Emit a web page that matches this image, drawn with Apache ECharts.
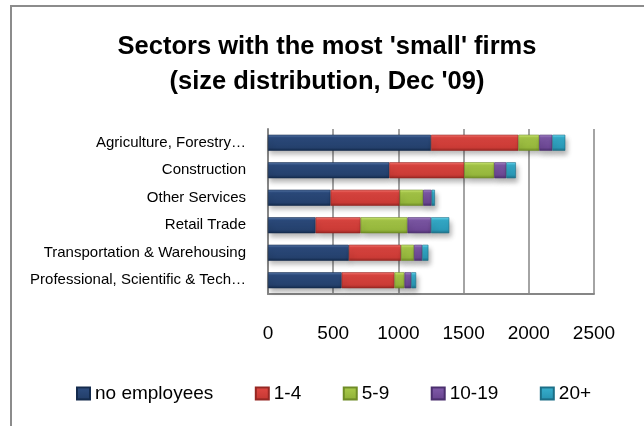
<!DOCTYPE html>
<html>
<head>
<meta charset="utf-8">
<script src="https://cdn.jsdelivr.net/npm/echarts@6/dist/echarts.min.js"></script>
<style>
  html, body { margin: 0; padding: 0; background: #ffffff; }
  #chart { width: 644px; height: 426px; }
</style>
</head>
<body>
<div id="chart"></div>
<script>
// Sectors, listed top to bottom
const sectors = [
  'Agriculture, Forestry\u2026',
  'Construction',
  'Other Services',
  'Retail Trade',
  'Transportation & Warehousing',
  'Professional, Scientific & Tech\u2026'
];

// Number of firms per size band (thousands)
const noEmployees = [1250, 930, 480, 365, 620, 565];
const band1to4    = [670, 575, 530, 345, 400, 405];
const band5to9    = [160, 230, 180, 360, 100, 77];
const band10to19  = [100, 92, 65, 180, 62, 51];
const band20plus  = [100, 74, 25, 140, 48, 38];

const bandNames = ['no employees', '1-4', '5-9', '10-19', '20+'];
const bandValues = [noEmployees, band1to4, band5to9, band10to19, band20plus];

// Axis ticks
const xTicks = { min: 0, max: 2500, step: 500 };

// Bevelled fills: light top edge, main body, dark bottom edge
const palettes = [
  ['#5a7bab', '#2c4b7d', '#24406c', '#142b4d'],
  ['#f47a74', '#dc4540', '#c93a35', '#962723'],
  ['#d2ec7a', '#a6c748', '#94b53b', '#6f8c26'],
  ['#a98bcc', '#7d58a6', '#6c4793', '#4b2f6e'],
  ['#6fdcf4', '#35acca', '#2a98b6', '#1c6f87']
];

function bevel(p) {
  return new echarts.graphic.LinearGradient(0, 0, 0, 1, [
    { offset: 0, color: p[0] },
    { offset: 0.18, color: p[1] },
    { offset: 0.8, color: p[2] },
    { offset: 1, color: p[3] }
  ]);
}

const series = bandNames.map((name, i) => ({
  name: name,
  type: 'bar',
  stack: 'total',
  barWidth: 16,
  data: bandValues[i],
  itemStyle: {
    color: bevel(palettes[i]),
    borderColor: palettes[i][3],
    borderWidth: 0.6,
    shadowBlur: 5,
    shadowOffsetX: 2,
    shadowOffsetY: 4,
    shadowColor: 'rgba(0,0,0,0.3)'
  },
  emphasis: { disabled: true }
}));

const chart = echarts.init(document.getElementById('chart'), null, { renderer: 'canvas' });

chart.setOption({
  animation: false,
  backgroundColor: '#ffffff',
  textStyle: { fontFamily: 'Liberation Sans' },
  graphic: [{
    type: 'rect',
    shape: { x: 11, y: 6, width: 700, height: 500 },
    style: { fill: 'none', stroke: '#8c8c8c', lineWidth: 2 },
    z: 0
  }],
  title: {
    text: "Sectors with the most 'small' firms\n(size distribution, Dec '09)",
    left: 327,
    textAlign: 'center',
    top: 29,
    padding: 0,
    textStyle: {
      fontFamily: 'Liberation Sans',
      fontWeight: 'bold',
      fontSize: 25.5,
      lineHeight: 35,
      color: '#000000'
    }
  },
  legend: {
    data: bandNames,
    left: 76,
    top: 384,
    padding: 0,
    itemWidth: 13,
    itemHeight: 12,
    itemGap: 41.5,
    icon: 'rect',
    textStyle: { fontFamily: 'Liberation Sans', fontSize: 19, color: '#000000' }
  },
  grid: { left: 268, right: 50, top: 129, bottom: 132, containLabel: false },
  xAxis: {
    type: 'value',
    min: xTicks.min,
    max: xTicks.max,
    interval: xTicks.step,
    axisLine: { show: true, lineStyle: { color: '#868686', width: 2 } },
    axisTick: { show: false },
    splitLine: { show: true, lineStyle: { color: '#868686', width: 1.5 } },
    axisLabel: {
      margin: 30,
      fontFamily: 'Liberation Sans',
      fontSize: 19,
      color: '#000000',
      formatter: (v) => String(v)
    }
  },
  yAxis: {
    type: 'category',
    inverse: true,
    data: sectors,
    axisLine: { show: true, lineStyle: { color: '#868686', width: 2 } },
    axisTick: { show: false },
    axisLabel: { margin: 22, fontFamily: 'Liberation Sans', fontSize: 15, color: '#000000' }
  },
  series: series
});
</script>
</body>
</html>
